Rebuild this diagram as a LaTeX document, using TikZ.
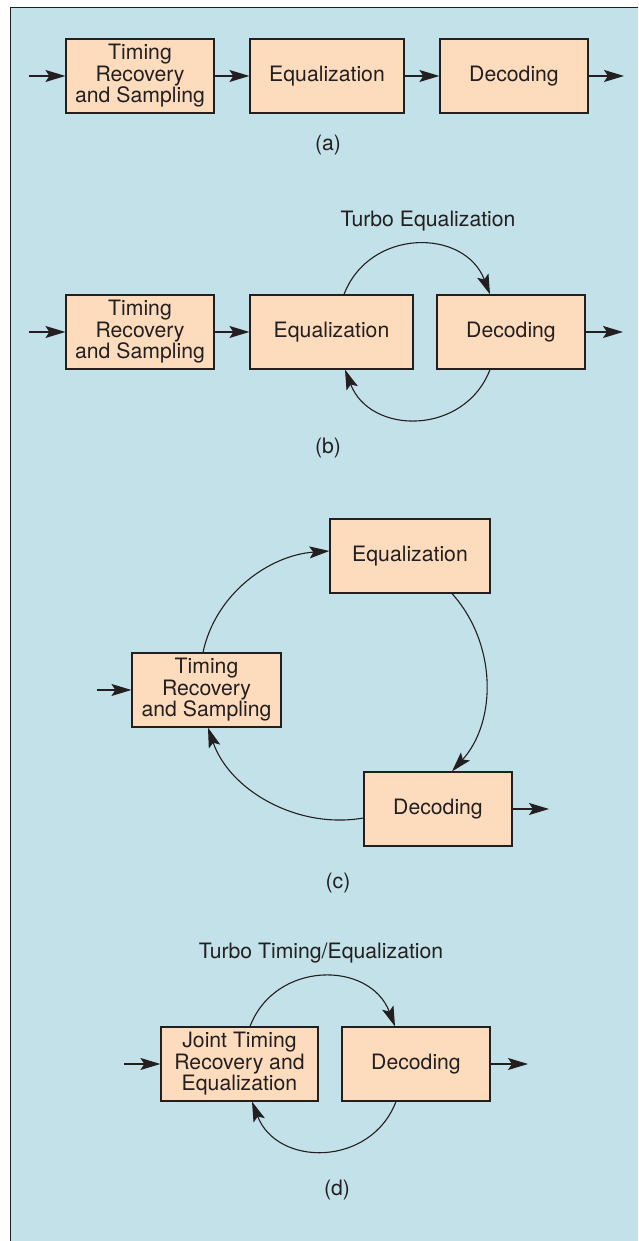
\documentclass[tikz,border=0pt]{standalone}
\usepackage{fontspec}
\setmainfont{TeX Gyre Heros}
\usepackage{xcolor}
\usepackage{tikz}
\usetikzlibrary{arrows.meta}
\definecolor{panelblue}{RGB}{195,225,232}
\definecolor{blockfill}{RGB}{253,220,190}
\definecolor{inkgray}{RGB}{35,31,32}

\begin{document}
\begin{tikzpicture}[x = 0.5pt, y = 0.5pt,
		blk/.style = {draw = inkgray, line width = 0.6pt, fill = blockfill, align = center, inner sep = 0pt, minimum height = 37pt, text = inkgray, font = \fontsize{10.6}{10.75}\selectfont},
		flow/.style = {-{Stealth[length = 10pt, width = 6pt, inset = 2pt]}, line width = 0.55pt, draw = inkgray},
		lbl/.style = {text = inkgray, font = \fontsize{10.6}{12}\selectfont}]
		\useasboundingbox (0,0) rectangle (638,1241);
		% panel
		\fill[panelblue] (10.5,0) rectangle (638,1233.5);
		\draw[inkgray, line width = 0.6pt] (10.5,0) -- (10.5,1233.5) -- (638,1233.5);

		% (a)
		\node[blk, minimum width = 74pt] (tra) at (140,1165) {Timing\\Recovery\\and Sampling};
		\node[blk, minimum width = 77pt] (eqa) at (327,1165) {Equalization};
		\node[blk, minimum width = 74pt] (dca) at (514,1165) {Decoding};
		\coordinate (ina) at (29,1165);
		\coordinate (outa) at (624,1165);
		\draw[flow] (ina) -- (tra);
		\draw[flow] (tra) -- (eqa);
		\draw[flow] (eqa) -- (dca);
		\draw[flow] (dca) -- (outa);

		% (b)
		\node[blk, minimum width = 74pt] (trb) at (140,909) {Timing\\Recovery\\and Sampling};
		\node[blk, minimum width = 81.5pt] (eqb) at (331.5,909) {Equalization};
		\node[blk, minimum width = 74pt] (dcb) at (511,909) {Decoding};
		\coordinate (inb) at (29,909);
		\coordinate (outb) at (623,909);
		\draw[flow] (inb) -- (trb);
		\draw[flow] (trb) -- (eqb);
		\draw[flow] (dcb) -- (outb);
		\draw[flow] ([xshift = 6.25pt]eqb.north) to[out = 69, in = 111, looseness = 1.25] ([xshift = -10.5pt]dcb.north);
		\draw[flow] ([xshift = -10.5pt]dcb.south) to[out = -111, in = -69, looseness = 1.25] ([xshift = 6.75pt]eqb.south);
		\node[lbl] (turbob) at (428,1020) {Turbo Equalization};

		% (c)
		\node[blk, minimum width = 80pt] (eqc) at (410,685) {Equalization};
		\node[blk, minimum width = 74.5pt] (trc) at (206.5,551) {Timing\\Recovery\\and Sampling};
		\node[blk, minimum width = 74pt] (dcc) at (438,432) {Decoding};
		\coordinate (inc) at (97,551);
		\coordinate (outc) at (549,432);
		\draw[flow] (inc) -- (trc);
		\draw[flow] (dcc) -- (outc);
		\draw[flow] ([xshift = -1.75pt]trc.north) to[out = 78, in = 184, looseness = 0.95] ([yshift = 2.5pt]eqc.west);
		\draw[flow] ([xshift = 21pt]eqc.south) to[out = -48, in = 48, looseness = 0.97] ([xshift = 7pt]dcc.north);
		\draw[flow] ([yshift = -4.5pt]dcc.west) to[out = 190, in = -71, looseness = 0.95] ([xshift = 0.75pt]trc.south);

		% (d)
		\node[blk, minimum width = 78.5pt] (jtd) at (239.5,177) {Joint Timing\\Recovery and\\Equalization};
		\node[blk, minimum width = 74pt] (dcd) at (416,177) {Decoding};
		\coordinate (ind) at (124,177);
		\coordinate (outd) at (528,177);
		\draw[flow] (ind) -- (jtd);
		\draw[flow] (dcd) -- (outd);
		\draw[flow] ([xshift = 5.25pt]jtd.north) to[out = 69, in = 111, looseness = 1.25] ([xshift = -10.5pt]dcd.north);
		\draw[flow] ([xshift = -10pt]dcd.south) to[out = -111, in = -69, looseness = 1.25] ([xshift = 6.25pt]jtd.south);
		\node[lbl] (turbod) at (321,288) {Turbo Timing/Equalization};

		% captions
		\foreach \tag/\x/\y in {a/328/1096, b/328/793, c/338/358, d/337/51}{
			\node[lbl] (cap\tag) at (\x,\y) {(\tag)};
		}
	\end{tikzpicture}
\end{document}
